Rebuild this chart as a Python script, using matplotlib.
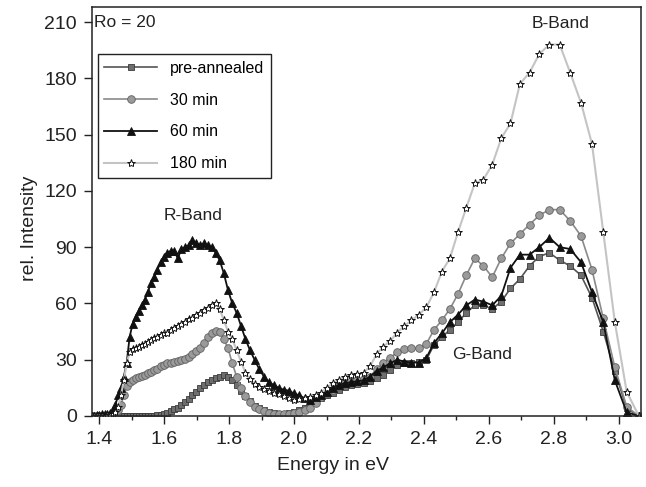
import numpy as np
import matplotlib
matplotlib.use("Agg")
import matplotlib.pyplot as plt
from matplotlib.ticker import MultipleLocator

plt.rcParams['font.family'] = ['Liberation Sans', 'DejaVu Sans']

# Messpunkte: Wellenlaengen-Raster (nm), umgerechnet in Energie (eV)
wavelength = np.arange(900, 400, -5)
energy = 1239.84 / wavelength

# rel. Intensitaet, je ein Wert pro Wellenlaenge
pre_annealed = [0, 0, 0, 0, 0, 0, 0, 0, 0, 0,
                0, 0, 0, 0, 0, 0, 0, 0, 0, 0,
                0, 0, 0, 0.3, 0.5, 1, 1.5, 2.5, 3.5, 4.5,
                6, 7.5, 9, 11, 13, 15, 16.5, 18, 19, 20,
                21, 22, 21, 19, 16.5, 13.5, 10.5, 8, 5.5, 4,
                3, 2, 1.5, 1.2, 1.2, 1.5, 2, 3, 4.5, 6.5,
                8, 9.5, 11, 12.5, 14, 15.5, 16.5, 17, 17.5, 18.5,
                20, 22, 24.5, 27, 28, 28.5, 29, 30, 38, 42,
                46, 50, 55, 59, 59, 57, 61, 68, 73, 80,
                85, 87, 83, 80, 75, 63, 45, 24, 4, 0]

min30 = [0, 0, 0, 0, 0, 0, 0, 0, 0.5, 1,
         3, 6, 11, 16, 18, 19, 20, 21, 21.5, 22,
         23, 23.5, 24.5, 25, 26.5, 27, 28, 28.5, 29, 29.5,
         30, 30.5, 31.5, 33, 34.5, 36, 39, 42, 44, 45.5,
         45, 41, 36, 28, 21, 15, 10.5, 7.5, 5, 3.5,
         2.5, 1.5, 1, 0.8, 0.8, 1, 1.5, 2, 3, 4.5,
         7, 10, 12, 14, 16, 17.5, 18.5, 19, 19.5, 21,
         25, 28.5, 31, 34, 35.5, 36.5, 36, 38.5, 46, 51,
         57, 65, 75, 84, 80, 74, 84, 92, 97, 102,
         107, 110, 110, 104, 96, 78, 52, 26, 5, 0]

min60 = [0, 0, 0.3, 0.5, 0.8, 1, 1, 1.5, 3, 6,
         11, 15, 21, 28.5, 42, 49, 53, 56, 59, 62,
         66, 71, 74, 78, 82, 85, 87, 88, 88, 84,
         89, 90, 91, 94, 92, 91, 92, 91, 90, 87,
         83, 76, 67, 60, 55, 48, 41, 35, 30, 25,
         21, 18, 16.5, 15, 14, 13.5, 12, 11, 9.5, 8.5,
         10, 11, 13, 15, 16.5, 17.5, 18, 18.5, 19, 21,
         24, 26, 28, 30, 29, 28.5, 28.5, 31, 39, 44,
         50, 54, 59, 62, 61, 59, 64, 79, 86, 86,
         90, 95, 90, 89, 82, 66, 50, 19, 2, 0]

min180 = [0, 0, 0, 0, 0, 0, 0.3, 0.5, 1, 2,
          5, 11, 19, 28, 34, 35.5, 36.5, 37, 38, 38.5,
          39.5, 40.5, 41.5, 42, 43, 44, 44.5, 46, 47, 48,
          49, 50, 51.5, 52.5, 54, 55, 56.5, 57.5, 59, 60,
          57, 51, 45, 41, 35, 29, 23, 19.5, 17, 15.5,
          14.5, 13.5, 12.5, 11.5, 10.5, 9.5, 8.5, 9, 9.5, 10,
          11, 12.5, 15, 17.5, 19, 21, 22, 22.5, 23, 26.5,
          33, 37, 40, 44.5, 48, 51, 54, 58, 66, 77,
          84, 98, 111, 124, 126, 134, 148, 156, 177, 183,
          193, 198, 198, 183, 167, 145, 98, 50, 13, 0]

labels = ['pre-annealed', '30 min', '60 min', '180 min']
xticks = [1.4, 1.6, 1.8, 2.0, 2.2, 2.4, 2.6, 2.8, 3.0]

fig = plt.figure(figsize=(6.46, 4.87), dpi=100)
ax = fig.add_axes([0.1424, 0.1458, 0.8498, 0.8398])

ax.plot(energy, pre_annealed, color='#555555', lw=1.2, marker='s', ms=4.5,
        mfc='#6e6e6e', mec='#3a3a3a', mew=0.6, label=labels[0])
ax.plot(energy, min30, color='#8a8a8a', lw=1.2, marker='o', ms=5.5,
        mfc='#9a9a9a', mec='#606060', mew=0.6, label=labels[1])
ax.plot(energy, min60, color='#111111', lw=1.3, marker='^', ms=5.5,
        mfc='#111111', mec='#111111', mew=0.6, label=labels[2])
ax.plot(energy, min180, color='#c4c4c4', lw=1.5, marker='*', ms=6,
        mfc='white', mec='#111111', mew=0.7, label=labels[3])

ax.set_xlim(1.378, 3.068)
ax.set_ylim(0, 218)
ax.set_xticks(xticks)
ax.set_xticklabels(['%.1f' % t for t in xticks])
ax.xaxis.set_minor_locator(MultipleLocator(0.1))
ax.yaxis.set_major_locator(MultipleLocator(30))
ax.tick_params(which='major', direction='out', length=6, width=1, labelsize=14,
               colors='#222222')
ax.tick_params(axis='x', which='major', pad=5)
ax.tick_params(axis='y', which='major', pad=5)
ax.tick_params(which='minor', direction='out', length=3, width=1, colors='#222222')
for s in ax.spines.values():
    s.set_linewidth(1.1)
    s.set_color('#222222')

ax.set_xlabel('Energy in eV', fontsize=14, color='#222222')
ax.set_ylabel('rel. Intensity', fontsize=14, color='#222222')
ax.xaxis.set_label_coords(0.439, -0.1)
ax.yaxis.set_label_coords(-0.098, 0.458)

# Beschriftungen der Banden
ax.text(1.385, 210, 'Ro = 20', fontsize=12.5, va='center', ha='left', color='#222222')
ax.text(1.69, 107, 'R-Band', fontsize=12.5, va='center', ha='center', color='#222222')
ax.text(2.82, 209, 'B-Band', fontsize=12.5, va='center', ha='center', color='#222222')
ax.text(2.58, 33, 'G-Band', fontsize=12.5, va='center', ha='center', color='#222222')

leg = ax.legend(loc='upper left', bbox_to_anchor=(0.011, 0.884), borderaxespad=0,
                fontsize=11.5, numpoints=1, handlelength=3.3, labelspacing=1.05,
                fancybox=False, framealpha=1, edgecolor='#222222')
leg.get_frame().set_linewidth(1.0)

plt.savefig('out.png', dpi=100)
